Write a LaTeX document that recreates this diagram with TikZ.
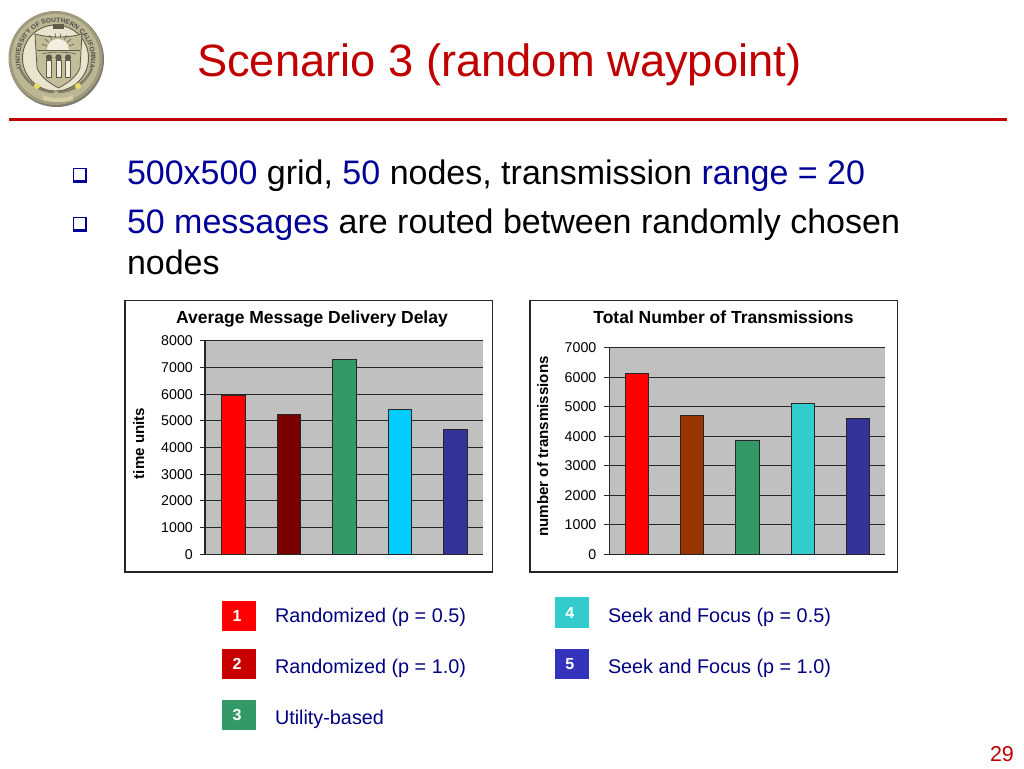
\documentclass[tikz,border=0pt]{standalone}
\usepackage{fontspec}
\setmainfont{Liberation Sans}
\usetikzlibrary{decorations.text}
\definecolor{usred}{HTML}{C00000}
\definecolor{navy}{HTML}{000099}
\definecolor{legblue}{HTML}{000080}
\definecolor{plotgrey}{HTML}{C0C0C0}
\definecolor{sealA}{HTML}{A09A7E}
\definecolor{sealB}{HTML}{D4CCA4}
\definecolor{sealC}{HTML}{5E5A4A}
\definecolor{sealD}{HTML}{F2EFE0}
\definecolor{barA}{HTML}{FF0000}
\definecolor{barB}{HTML}{7A0000}
\definecolor{barC}{HTML}{339966}
\definecolor{barD}{HTML}{00CCFF}
\definecolor{barE}{HTML}{333399}
\definecolor{barF}{HTML}{993300}
\definecolor{barG}{HTML}{33CCCC}
\definecolor{legB}{HTML}{C80000}
\definecolor{legE}{HTML}{3333BB}
\newcommand{\fsz}[1]{\fontsize{#1}{#1}\selectfont}
\newcommand{\legd}[1]{\kern-4pt #1}
\tikzset{
 x=1pt,y=-1pt,
 txt/.style={inner sep=0pt,outer sep=0pt,anchor=base west},
 body/.style={txt,font=\fsz{34}},
 framebox/.style={draw=black!85,line width=1.3pt,fill=white},
 gridl/.style={draw=black!85,line width=1.1pt},
 bar/.style={draw=black!85,line width=1pt},
 ticklab/.style={inner sep=0pt,anchor=base east,font=\fsz{14.2}},
 ctitle/.style={inner sep=0pt,anchor=base,font=\fsz{17.5}\bfseries},
 axlab/.style={inner sep=0pt,anchor=base,rotate=90,font=\fsz{15.1}\bfseries},
 legsq/.style={inner sep=0pt,minimum width=34pt,minimum height=30.6pt,text=white,font=\fsz{16}\bfseries},
 legtxt/.style={txt,text=legblue,font=\fsz{19.8}},
 bulletbox/.style={fill=white,inner sep=0pt,minimum width=11pt,minimum height=10.7pt},
 sealline/.style={draw=sealC,line width=0.8pt},
}
\begin{document}
\begin{tikzpicture}
\useasboundingbox (0,0) rectangle (1024,768);
\fill[white] (0,0) rectangle (1024,768);
% seal
\fill[sealC!80!white] (56.5,59.5) circle (47.5);
\fill[sealA] (55.5,58) circle (47);
\fill[sealB!55!sealA] (55.5,58) circle (44);
\path[postaction={decorate,decoration={text along path,text align=center,
 text={|\fsz{6.6}\bfseries\color{black!70}|UNIVERSITY OF SOUTHERN CALIFORNIA}}}]
 (55.5,58) ++(145:35.5) arc[start angle=145,end angle=395,radius=35.5];
\draw[sealC,line width=0.9pt,fill=sealD!70!sealB] (55.5,58) circle (33);
\fill[sealC] (53,24) rectangle (64,29);
\path[fill=sealB!70!sealA,sealline] (35,34) .. controls (50,38) and (67,38) .. (82,34) -- (80,68) .. controls (76,78) and (66,84) .. (58.5,88) .. controls (51,84) and (41,78) .. (37,68) -- cycle;
\fill[sealD] (47,50) arc[start angle=180,end angle=360,radius=11] -- cycle;
\foreach \a in {-70,-50,-30,-10,10,30,50,70}{\draw[sealC,line width=0.6pt] (58,50) ++(-90+\a:12) -- ++(-90+\a:5);}
\draw[sealC,line width=1pt] (37,50.5) -- (80,50.5);
\draw[sealC,line width=0.6pt] (42,54) .. controls (50,51.5) and (66,51.5) .. (76,54);
\foreach \xx in {49,58.5,68}{
 \fill[sealD] (\xx-2.3,60) rectangle (\xx+2.3,77);
 \fill[sealC] (\xx,57.5) circle (3.2);
 \draw[sealC,line width=0.5pt] (\xx-2.3,60) rectangle (\xx+2.3,77);
}
\draw[sealC!70!sealB,line width=2.4pt] (20,68) .. controls (24,80) and (38,92) .. (54,92);
\draw[sealC!70!sealB,line width=2.4pt] (92,68) .. controls (88,80) and (74,92) .. (58,92);
\fill[sealB!60!yellow] (37,86) circle (3) (78,86) circle (3);
\fill[sealB] (43,95) .. controls (52,99) and (64,99) .. (73,95) -- (73,100) .. controls (64,103) and (52,103) .. (43,100) -- cycle;
% title
\node[txt,text=usred,font=\fsz{45.3}] (title) at (197,77) {Scenario 3 (random waypoint)};
\coordinate (ruleL) at (9,119.5);
\coordinate (ruleR) at (1007,119.5);
\draw[usred,line width=3pt] (ruleL) -- (ruleR);
% bullets
\foreach \yy/\nm in {175/ba,224/bb}{
 \fill[navy] (72.7,\yy-6.8) rectangle (87,\yy+8);
 \node[bulletbox] (\nm) at (79.5,\yy-0.2) {};
}
\node[body] (l1) at (127,184) {\textcolor{navy}{500x500} grid, \textcolor{navy}{50} nodes, transmission \textcolor{navy}{range = 20}};
\node[body] (l2) at (127,233) {\textcolor{navy}{50 messages} are routed between randomly chosen};
\node[body] (l3) at (127,274) {nodes};
% chart 1
\path[framebox] (125,300.7) rectangle (492.7,572);
\fill[plotgrey] (205,340.7) rectangle (483,554.3);
\foreach \i in {0,...,8}{
 \pgfmathsetmacro{\yy}{554.3-\i*26.7}
 \pgfmathtruncatemacro{\vv}{\i*1000}
 \draw[gridl] (200,\yy) -- (483,\yy);
 \node[ticklab] at (193,\yy+5) {\vv};
}
\draw[gridl] (205,340.7) -- (205,554.3);
\foreach \xa/\xb/\yt/\cc in {221.7/245/395.7/barA,277.3/300.3/414.3/barB,332.3/356/359.3/barC,388.7/411/409.7/barD,443.3/467/429.7/barE}{
 \draw[bar,fill=\cc] (\xa,554.3) rectangle (\xb,\yt);
}
\node[ctitle] (t1) at (312,323) {Average Message Delivery Delay};
\node[axlab] (a1) at (144,443.5) {time units};
% chart 2
\path[framebox] (530,300.7) rectangle (897.7,572);
\fill[plotgrey] (609.3,347.7) rectangle (885,554.3);
\foreach \i in {0,...,7}{
 \pgfmathsetmacro{\yy}{554.3-\i*29.51}
 \pgfmathtruncatemacro{\vv}{\i*1000}
 \draw[gridl] (604,\yy) -- (885,\yy);
 \node[ticklab] at (596.5,\yy+5) {\vv};
}
\draw[gridl] (609.3,347.7) -- (609.3,554.3);
\foreach \xa/\xb/\yt/\cc in {625.7/648.3/373.3/barA,680.3/703.3/415.7/barF,735.3/759/440/barC,791.7/814/403.5/barG,846.3/869/418/barE}{
 \draw[bar,fill=\cc] (\xa,554.3) rectangle (\xb,\yt);
}
\node[ctitle] (t2) at (723.5,323.5) {Total Number of Transmissions};
\node[axlab] (a2) at (548,446.5) {number of transmissions};
% legend
\node[legsq,fill=barA] (k1) at (239,616) {\legd{1}};
\node[legsq,fill=legB] (k2) at (239,664) {\legd{2}};
\node[legsq,fill=barC] (k3) at (239,715) {\legd{3}};
\node[legsq,fill=barG] (k4) at (571.7,612.7) {\legd{4}};
\node[legsq,fill=legE] (k5) at (571.7,664) {\legd{5}};
\node[legtxt] (n1) at (275,622) {Randomized (p = 0.5)};
\node[legtxt] (n2) at (275,673) {Randomized (p = 1.0)};
\node[legtxt] (n3) at (275,724) {Utility-based};
\node[legtxt] (n4) at (608,622) {Seek and Focus (p = 0.5)};
\node[legtxt] (n5) at (608,673) {Seek and Focus (p = 1.0)};
% page number
\node[txt,text=usred,font=\fsz{21.5}] (pg) at (990,761) {29};
\end{tikzpicture}
\end{document}
